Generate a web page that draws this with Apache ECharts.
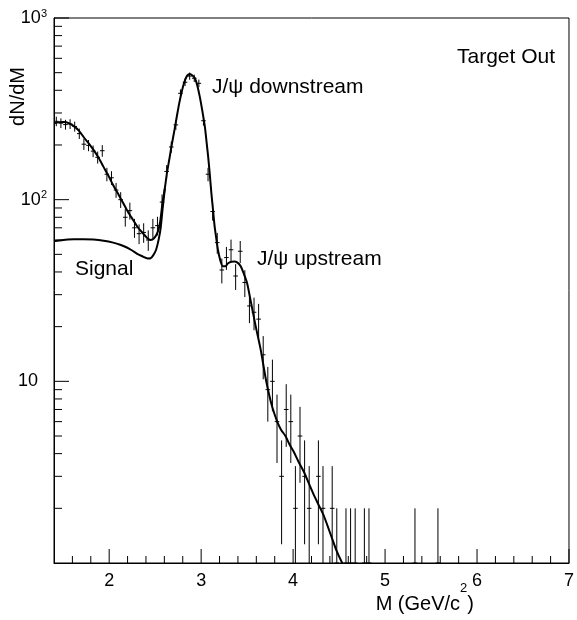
<!DOCTYPE html>
<html>
<head>
<meta charset="utf-8">
<script src="https://cdn.jsdelivr.net/npm/echarts@6/dist/echarts.min.js"></script>
<style>
  html, body { margin: 0; padding: 0; background: #fff; }
  #chart { width: 577px; height: 620px; }
</style>
</head>
<body>
<div id="chart"></div>
<script>
// Dimuon invariant-mass histogram (bin centres, GeV/c^2) and counts per bin
const massBins = [
  1.425, 1.475, 1.525, 1.575, 1.625, 1.675, 1.725, 1.775, 1.825, 1.875,
  1.925, 1.975, 2.025, 2.075, 2.125, 2.175, 2.225, 2.275, 2.325, 2.375,
  2.425, 2.475, 2.525, 2.575, 2.625, 2.675, 2.725, 2.775, 2.825, 2.875,
  2.925, 2.975, 3.025, 3.075, 3.125, 3.175, 3.225, 3.275, 3.325, 3.375,
  3.425, 3.475, 3.525, 3.575, 3.625, 3.675, 3.725, 3.775, 3.825, 3.875,
  3.925, 3.975, 4.025, 4.075, 4.125, 4.175, 4.275, 4.325, 4.425, 4.475,
  4.575, 4.625, 4.675, 4.775, 4.825, 5.325, 5.575
];
const counts = [
  270, 264, 259, 261, 253, 231, 202, 199, 185, 171,
  186, 138, 132, 113, 100, 80, 87, 70, 65, 66,
  60, 70, 72, 97, 143, 195, 258, 385, 443, 479,
  466, 437, 272, 138, 86, 58, 41, 48, 53, 38,
  52, 35, 26, 24, 22, 14, 9, 10, 6, 3,
  7, 6, 2, 5, 3, 2, 3, 2, 2, 1,
  1, 1, 1, 1, 1, 1, 1
];
const binWidth = 0.05;

// Total fit curve (signal + background)
const fitMass = [
  1.40, 1.45, 1.51, 1.56, 1.615, 1.67, 1.72, 1.775, 1.83, 1.885,
  1.937, 1.99, 2.044, 2.10, 2.152, 2.205, 2.26, 2.31, 2.367, 2.41,
  2.45, 2.49, 2.528, 2.555, 2.58, 2.605, 2.628, 2.655, 2.68, 2.71,
  2.735, 2.762, 2.789, 2.815, 2.842, 2.86, 2.879, 2.905, 2.932, 2.958,
  2.985, 3.012, 3.04, 3.058, 3.076, 3.094, 3.111, 3.129, 3.147, 3.165,
  3.183, 3.21, 3.236, 3.265, 3.29, 3.33, 3.362, 3.395, 3.43, 3.465,
  3.50, 3.54, 3.594, 3.648, 3.70, 3.74, 3.774, 3.827, 3.87, 3.917,
  3.96, 4.007, 4.06, 4.114, 4.17, 4.22, 4.275, 4.33, 4.375, 4.418,
  4.472, 4.526, 4.56
];
const fitTotal = [
  263, 267, 268, 264, 254, 240, 222, 205, 188, 170,
  152, 136, 120, 107, 95.8, 85.5, 77.3, 70.5, 65.3, 61.8,
  60, 61.5, 66.5, 76, 96, 115, 140, 168, 200, 242,
  286, 340, 393, 440, 476, 488, 491, 482, 466, 425,
  369, 310, 253, 210, 173, 138, 109, 88, 71, 61,
  52.8, 46, 43, 43, 44.5, 45.5, 45.6, 45, 43, 39,
  34.7, 27.5, 20, 14.9, 10.5, 8.4, 7.2, 6.0, 5.4, 5.0,
  4.5, 4.1, 3.6, 3.2, 2.75, 2.4, 2.1, 1.84, 1.6, 1.39,
  1.17, 1.02, 0.95
];

// Signal-only component below the J/psi peak
const signalMass = [
  1.40, 1.50, 1.615, 1.72, 1.83, 1.94, 2.044, 2.12, 2.187, 2.25,
  2.30, 2.36, 2.42, 2.45, 2.48, 2.51, 2.54, 2.56, 2.58, 2.605
];
const signalValues = [
  59, 60, 60.5, 60.6, 60.3, 59.4, 58, 56.5, 54.7, 52.5,
  50.5, 48.8, 47.5, 47.6, 49.5, 53, 61, 70, 88, 115
];

// Axis tick labels
const xTickLabels = [2, 3, 4, 5, 6, 7];
const yTickLabels = [1, 10, 100, 1000];

const FONT = "'Liberation Sans', Arial, Helvetica, sans-serif";
const X_MIN = 1.4, X_MAX = 7, Y_MIN = 1, Y_MAX = 1000;

// Tick marks drawn inward, ROOT style
const xTicks = [];
for (let i = 1; i <= 28; i++) xTicks.push([+(X_MIN + 0.2 * i).toFixed(1), Y_MIN]);
const yTicks = [];
[1, 10, 100].forEach(d => { for (let k = 2; k <= 10; k++) yTicks.push([X_MIN, k * d]); });

const chart = echarts.init(document.getElementById('chart'), null, { renderer: 'canvas' });

const lineStyleBlack = { stroke: '#000', lineWidth: 1 };

chart.setOption({
  animation: false,
  backgroundColor: '#fff',
  textStyle: { fontFamily: FONT },
  grid: {
    left: 54, right: 1, top: 18, bottom: 57,
    show: true, borderColor: '#000', borderWidth: 1, backgroundColor: 'transparent'
  },
  xAxis: {
    type: 'value', min: X_MIN, max: X_MAX,
    axisLine: { lineStyle: { color: '#000', width: 1 } },
    axisTick: { show: false },
    splitLine: { show: false },
    axisLabel: {
      customValues: xTickLabels,
      margin: 9, fontSize: 18, color: '#000', fontFamily: FONT
    }
  },
  yAxis: {
    type: 'log', logBase: 10, min: Y_MIN, max: Y_MAX,
    axisLine: { lineStyle: { color: '#000', width: 1 } },
    axisTick: { show: false },
    splitLine: { show: false },
    axisLabel: {
      margin: 7, color: '#000', fontFamily: FONT, fontSize: 18,
      formatter: function (v) {
        if (yTickLabels.indexOf(v) < 0) return '';
        const e = Math.round(Math.log10(v));
        if (e === 0) return '';
        if (e === 1) return '{b|10}{sp| }';
        return '{b|10}{sup|' + e + '}';
      },
      rich: {
        b: { fontSize: 18, lineHeight: 20, color: '#000', fontFamily: FONT },
        sup: { fontSize: 11, lineHeight: 12, verticalAlign: 'top', color: '#000', fontFamily: FONT },
        sp: { width: 9, fontSize: 11 }
      }
    }
  },
  series: [
    {
      // histogram points with bin-width and sqrt(N) error bars
      type: 'custom', name: 'data', silent: true, clip: true, z: 3,
      data: massBins.map((m, i) => [m, counts[i]]),
      renderItem: function (params, api) {
        const m = api.value(0), n = api.value(1);
        const err = Math.sqrt(n);
        const lo = Math.max(n - err, Y_MIN), hi = n + err;
        const pL = api.coord([m - binWidth / 2, n]);
        const pR = api.coord([m + binWidth / 2, n]);
        const pT = api.coord([m, hi]);
        const pB = api.coord([m, lo]);
        return {
          type: 'group',
          children: [
            { type: 'line', shape: { x1: pL[0], y1: pL[1], x2: pR[0], y2: pR[1] }, style: lineStyleBlack },
            { type: 'line', shape: { x1: pT[0], y1: pT[1], x2: pB[0], y2: pB[1] }, style: lineStyleBlack }
          ]
        };
      }
    },
    {
      type: 'line', name: 'fit', z: 4,
      data: fitMass.map((m, i) => [m, fitTotal[i]]),
      showSymbol: false, smooth: 0.25, clip: true,
      lineStyle: { color: '#000', width: 2 }
    },
    {
      type: 'line', name: 'signal', z: 4,
      data: signalMass.map((m, i) => [m, signalValues[i]]),
      showSymbol: false, smooth: 0.25, clip: true,
      lineStyle: { color: '#000', width: 2 }
    },
    {
      // x-axis ticks: long at integers, short every 0.2
      type: 'custom', silent: true, clip: false, z: 6,
      data: xTicks,
      renderItem: function (params, api) {
        const v = api.value(0);
        const major = Math.abs(v - Math.round(v)) < 1e-6;
        const p = api.coord([v, Y_MIN]);
        const len = major ? 14 : 7;
        return { type: 'line', shape: { x1: p[0], y1: p[1], x2: p[0], y2: p[1] - len }, style: lineStyleBlack };
      }
    },
    {
      // y-axis ticks: long at decades, short at 2..9 of each decade
      type: 'custom', silent: true, clip: false, z: 6,
      data: yTicks,
      renderItem: function (params, api) {
        const v = api.value(1);
        const lg = Math.log10(v);
        const major = Math.abs(lg - Math.round(lg)) < 1e-6;
        const p = api.coord([X_MIN, v]);
        const len = major ? 15 : 8;
        return { type: 'line', shape: { x1: p[0], y1: p[1], x2: p[0] + len, y2: p[1] }, style: lineStyleBlack };
      }
    }
  ],
  graphic: [
    {
      type: 'text', x: 18, y: 67, rotation: Math.PI / 2,
      style: { text: 'dN/dM', font: '20px ' + FONT, fill: '#000', align: 'right', verticalAlign: 'middle' }
    },
    {
      type: 'text', x: 474, y: 604,
      style: {
        text: '{b|M (GeV/c}{sup|2}{b|)}', align: 'right', verticalAlign: 'middle',
        rich: {
          b: { fontSize: 20, lineHeight: 44, fontFamily: FONT, fill: '#000' },
          sup: { fontSize: 13, lineHeight: 13, verticalAlign: 'top', fontFamily: FONT, fill: '#000' }
        }
      }
    },
    {
      type: 'text', x: 457, y: 57,
      style: { text: 'Target Out', font: '21px ' + FONT, fill: '#000', align: 'left', verticalAlign: 'middle' }
    },
    {
      type: 'text', x: 212, y: 87,
      style: { text: 'J/\u03C8 downstream', font: '21px ' + FONT, fill: '#000', align: 'left', verticalAlign: 'middle' }
    },
    {
      type: 'text', x: 257, y: 259,
      style: { text: 'J/\u03C8 upstream', font: '21px ' + FONT, fill: '#000', align: 'left', verticalAlign: 'middle' }
    },
    {
      type: 'text', x: 75, y: 269,
      style: { text: 'Signal', font: '21px ' + FONT, fill: '#000', align: 'left', verticalAlign: 'middle' }
    }
  ]
});
</script>
</body>
</html>
